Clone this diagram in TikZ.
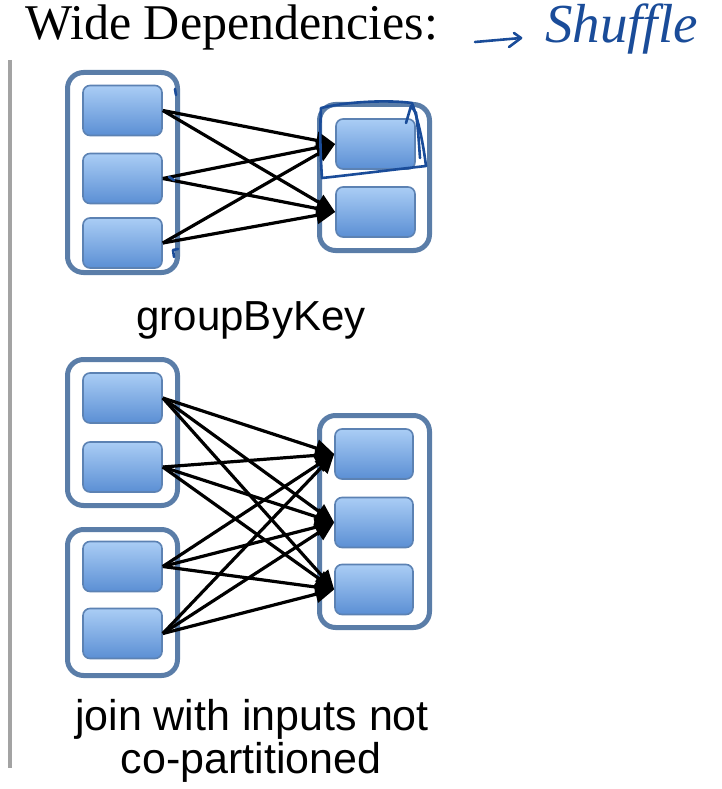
\documentclass[tikz,border=0pt]{standalone}
\usepackage{fontspec}
\setmainfont{Liberation Serif}
\setsansfont{Liberation Sans}
\usetikzlibrary{arrows.meta}

\definecolor{frameblue}{HTML}{5A7DA8}
\definecolor{parttop}{HTML}{AACDF5}
\definecolor{partbot}{HTML}{5B8FD4}
\definecolor{partedge}{HTML}{5C82B3}
\definecolor{inkblue}{HTML}{1A4C99}
\definecolor{rulegray}{HTML}{A3A3A3}

\tikzset{
  part/.style={draw=partedge, line width=1.6pt, rounded corners=7pt,
    top color=parttop, bottom color=partbot,
    minimum width=79pt, minimum height=50pt, inner sep=0pt},
  rdd/.style={draw=frameblue, line width=5pt, rounded corners=16pt,
    fill=white, inner sep=0pt, minimum width=110pt},
  dep/.style={line width=3.2pt, -{Triangle[length=19pt,width=17pt]}},
  caption/.style={font=\sffamily\fontsize{42}{48}\selectfont, anchor=base},
  ink/.style={draw=inkblue, line width=2.6pt, line cap=round, line join=round},
}

\begin{document}
\begin{tikzpicture}[x=1pt,y=-1pt]
\useasboundingbox (0,0) rectangle (722,789);

% title and handwritten note
\node[font=\fontsize{50}{56}\selectfont, anchor=base west, inner sep=0pt]
  (title) at (25,40) {Wide Dependencies:};
\node[text=inkblue, font=\itshape\fontsize{55}{60}\selectfont, anchor=base west, inner sep=0pt]
  (shuf) at (545,43) {Shuffle};
\coordinate (inkA) at (475,42);
\coordinate (inkB) at (521,38);
\draw[ink] (inkA) .. controls (498,40) .. (inkB);
\draw[ink] (514,33) -- (inkB) -- (509,47);

% left rule
\coordinate (ruleTop) at (10,60);
\coordinate (ruleBot) at (10,768);
\draw[rulegray, line width=4pt] (ruleTop) -- (ruleBot);

% ---- groupByKey ----
\node[rdd, minimum height=200pt] (gIn) at (122.5,172.5) {};
\node[rdd, minimum height=146pt] (gOut) at (374.5,177.5) {};
\node[part] (g1) at (122.5,110.5) {};
\node[part] (g2) at (122.5,178.5) {};
\node[part] (g3) at (122.5,243) {};
\node[part] (h1) at (375.5,144) {};
\node[part] (h2) at (375.5,212) {};
\foreach \s in {g1,g2,g3}
  \foreach \t in {h1,h2}
    \draw[dep] (\s.east) -- (\t.west);
\node[caption] (gLabel) at (251,330) {groupByKey};

% pen marks around the first output partition
\draw[ink] (321,108) .. controls (350,101) and (390,100) .. (412,103)
  .. controls (420,125) and (424,150) .. (426,166)
  .. controls (390,170) and (350,175) .. (322,178)
  .. controls (320,150) and (320,125) .. (321,108);
\draw[ink] (406,123) -- (411,106) -- (416,113) .. controls (418,130) .. (420,158);
\draw[ink] (175,89) -- (176,95);
\draw[ink] (169,177) -- (174,180);
\draw[ink] (174,257) -- (173,250) -- (178,249);

% ---- join with inputs not co-partitioned ----
\node[rdd, minimum height=146pt] (aIn) at (122.5,432.5) {};
\node[rdd, minimum height=146pt] (bIn) at (122.5,602.5) {};
\node[rdd, minimum height=212pt] (jOut) at (374.5,521.5) {};
\node[part] (a1) at (122.5,398) {};
\node[part] (a2) at (122.5,467) {};
\node[part] (b1) at (122.5,566.5) {};
\node[part] (b2) at (122.5,633.5) {};
\node[part, minimum width=78pt] (j1) at (374,454) {};
\node[part, minimum width=78pt] (j2) at (374,522.5) {};
\node[part, minimum width=78pt] (j3) at (374,589.5) {};
\foreach \s in {a1,a2,b1,b2}
  \foreach \t in {j1,j2,j3}
    \draw[dep] (\s.east) -- (\t.west);
\node[caption, font=\sffamily\fontsize{43}{48}\selectfont] (jLabel1) at (252,730) {join with inputs not};
\node[caption, font=\sffamily\fontsize{43}{48}\selectfont] (jLabel2) at (251,773) {co-partitioned};
\end{tikzpicture}
\end{document}
